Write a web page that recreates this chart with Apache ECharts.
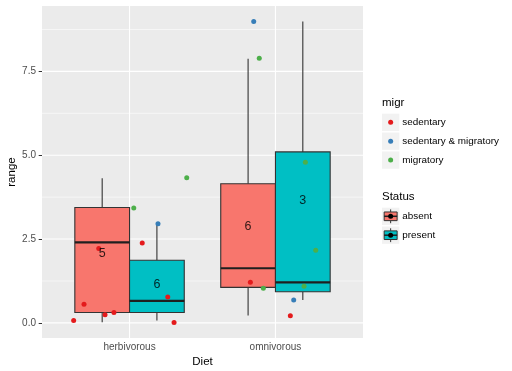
<!DOCTYPE html>
<html><head><meta charset="utf-8">
<script src="https://cdn.jsdelivr.net/npm/echarts@6/dist/echarts.min.js"></script>
<style>html,body{margin:0;padding:0;background:#fff}#c{width:512px;height:371px}</style>
</head><body><div id="c"></div>
<script>
const diets = ['herbivorous', 'omnivorous'];
const statuses = ['absent', 'present'];
const statusColors = ['#F8766D', '#00BFC4'];
const migrLevels = ['sedentary', 'sedentary & migratory', 'migratory'];
const migrColors = ['#E41A1C', '#377EB8', '#4DAF4A'];
// box stats: [x position, lower whisker, Q1, median, Q3, upper whisker]
const boxAbsent = [[0.8125, 0.02, 0.31, 2.40, 3.44, 4.31], [1.8125, 0.22, 1.06, 1.63, 4.15, 7.88]];
const boxPresent = [[1.1875, 0.07, 0.31, 0.66, 1.87, 2.97], [2.1875, 0.68, 0.93, 1.21, 5.10, 8.99]];
// count labels: [x, y, text]
const countLabels = [[0.8125, 2.08, '5'], [1.1875, 1.13, '6'], [1.8125, 2.86, '6'], [2.1875, 3.64, '3']];
// jittered points [x, range]
const sedentary = [[1.087, 2.38], [0.789, 2.22], [1.262, 0.77], [0.688, 0.56], [0.893, 0.31], [0.832, 0.24], [0.617, 0.07], [1.305, 0.01], [1.828, 1.21], [2.102, 0.21]];
const sedMig = [[1.195, 2.96], [1.851, 8.99], [2.125, 0.68]];
const migratory = [[1.392, 4.33], [1.029, 3.43], [1.889, 7.89], [2.205, 4.79], [2.276, 2.17], [2.196, 1.09], [1.917, 1.03]];
const yTicks = [0, 2.5, 5, 7.5];
const yMinor = [1.25, 3.75, 6.25, 8.75];
const xTicks = [1, 2];
const yRange = [-0.45, 9.45];
const xRange = [0.4, 2.6];

const FONT = '"Liberation Sans", Arial, sans-serif';
const chart = echarts.init(document.getElementById('c'), null, {renderer: 'canvas'});

// grid lines: [orientation 0=h 1=v, value, major flag]
const gridData = []
  .concat(yMinor.map(v => [0, v, 0]))
  .concat(yTicks.map(v => [0, v, 1]))
  .concat(xTicks.map(v => [1, v, 1]));

function renderGrid(params, api) {
  const o = api.value(0), v = api.value(1), major = api.value(2);
  let p1, p2;
  if (o === 0) { p1 = api.coord([xRange[0], v]); p2 = api.coord([xRange[1], v]); }
  else { p1 = api.coord([v, yRange[0]]); p2 = api.coord([v, yRange[1]]); }
  return {type: 'line', shape: {x1: p1[0], y1: p1[1], x2: p2[0], y2: p2[1]},
    style: {stroke: '#ffffff', lineWidth: major ? 1.1 : 0.55}};
}

function renderBox(params, api) {
  const x = api.value(0), half = 0.1875;
  const pMin = api.coord([x, api.value(1)]);
  const pQ1 = api.coord([x, api.value(2)]);
  const pMed = api.coord([x, api.value(3)]);
  const pQ3 = api.coord([x, api.value(4)]);
  const pMax = api.coord([x, api.value(5)]);
  const left = api.coord([x - half, 0])[0];
  const right = api.coord([x + half, 0])[0];
  const fill = api.visual('color');
  return {type: 'group', children: [
    {type: 'line', shape: {x1: pMin[0], y1: pMin[1], x2: pQ1[0], y2: pQ1[1]}, style: {stroke: '#333333', lineWidth: 1.1}},
    {type: 'line', shape: {x1: pQ3[0], y1: pQ3[1], x2: pMax[0], y2: pMax[1]}, style: {stroke: '#333333', lineWidth: 1.1}},
    {type: 'rect', shape: {x: left, y: pQ3[1], width: right - left, height: pQ1[1] - pQ3[1]}, style: {fill: fill, stroke: '#333333', lineWidth: 1.1}},
    {type: 'line', shape: {x1: left, y1: pMed[1], x2: right, y2: pMed[1]}, style: {stroke: '#1f1f1f', lineWidth: 2.2}}
  ]};
}

// legend graphics
const LX = 382, KEY = 17.3;
const graphics = [];
graphics.push({type: 'text', left: LX, top: 97, style: {text: 'migr', font: '11.5px ' + FONT, fill: '#000'}});
const migrRows = [122.3, 141.2, 160.1];
migrLevels.forEach((m, i) => {
  const cy = migrRows[i];
  graphics.push({type: 'rect', shape: {x: LX, y: cy - KEY / 2, width: KEY, height: KEY}, style: {fill: '#F2F2F2'}});
  graphics.push({type: 'circle', shape: {cx: LX + KEY / 2, cy: cy, r: 2.5}, style: {fill: migrColors[i]}});
  graphics.push({type: 'text', x: LX + KEY + 3, y: cy, style: {text: m, font: '9.9px ' + FONT, fill: '#000', verticalAlign: 'middle'}});
});
graphics.push({type: 'text', left: LX, top: 190.5, style: {text: 'Status', font: '11.5px ' + FONT, fill: '#000'}});
const statusRows = [216.3, 235.2];
statuses.forEach((s, i) => {
  const cy = statusRows[i], x0 = LX, y0 = cy - KEY / 2;
  graphics.push({type: 'rect', shape: {x: x0, y: y0, width: KEY, height: KEY}, style: {fill: '#F2F2F2'}});
  graphics.push({type: 'line', shape: {x1: x0 + KEY / 2, y1: y0 + KEY * 0.1, x2: x0 + KEY / 2, y2: y0 + KEY * 0.25}, style: {stroke: '#333333', lineWidth: 1}});
  graphics.push({type: 'line', shape: {x1: x0 + KEY / 2, y1: y0 + KEY * 0.75, x2: x0 + KEY / 2, y2: y0 + KEY * 0.9}, style: {stroke: '#333333', lineWidth: 1}});
  graphics.push({type: 'rect', shape: {x: x0 + KEY * 0.125, y: y0 + KEY * 0.25, width: KEY * 0.75, height: KEY * 0.5}, style: {fill: statusColors[i], stroke: '#333333', lineWidth: 1}});
  graphics.push({type: 'line', shape: {x1: x0 + KEY * 0.125, y1: cy, x2: x0 + KEY * 0.875, y2: cy}, style: {stroke: '#1f1f1f', lineWidth: 1.5}});
  graphics.push({type: 'circle', shape: {cx: x0 + KEY / 2, cy: cy, r: 2.5}, style: {fill: '#000'}});
  graphics.push({type: 'text', x: LX + KEY + 3, y: cy, style: {text: s, font: '9.9px ' + FONT, fill: '#000', verticalAlign: 'middle'}});
});

const option = {
  animation: false,
  textStyle: {fontFamily: FONT},
  grid: {left: 42, top: 6, right: 149, bottom: 33, show: true, backgroundColor: '#EBEBEB', borderWidth: 0,
    containLabel: false, outerBoundsMode: 'none'},
  xAxis: {
    type: 'value', min: xRange[0], max: xRange[1],
    name: 'Diet', nameLocation: 'middle', nameGap: 18, nameMoveOverlap: false,
    nameTextStyle: {fontSize: 11.5, color: '#000', fontFamily: FONT},
    axisLine: {show: false},
    axisTick: {show: true, length: 3.3, customValues: xTicks, lineStyle: {color: '#333333', width: 1}},
    axisLabel: {customValues: xTicks, formatter: v => diets[Math.round(v) - 1] || '', color: '#4D4D4D', fontSize: 10, margin: 4.5, fontFamily: FONT},
    splitLine: {show: false}
  },
  yAxis: {
    type: 'value', min: yRange[0], max: yRange[1],
    name: 'range', nameLocation: 'middle', nameGap: 24, nameRotate: 90, nameMoveOverlap: false,
    nameTextStyle: {fontSize: 11.5, color: '#000', fontFamily: FONT},
    axisLine: {show: false},
    axisTick: {show: true, length: 3.3, customValues: yTicks, lineStyle: {color: '#333333', width: 1}},
    axisLabel: {customValues: yTicks, formatter: v => v.toFixed(1), color: '#4D4D4D', fontSize: 10, margin: 6, fontFamily: FONT},
    splitLine: {show: false}
  },
  graphic: graphics,
  series: [
    {type: 'custom', name: 'grid', renderItem: renderGrid, data: gridData, z: 1, silent: true, clip: false},
    {type: 'custom', name: statuses[0], renderItem: renderBox, data: boxAbsent, itemStyle: {color: statusColors[0]}, z: 2},
    {type: 'custom', name: statuses[1], renderItem: renderBox, data: boxPresent, itemStyle: {color: statusColors[1]}, z: 2},
    {type: 'scatter', name: migrLevels[0], data: sedentary, symbolSize: 5, itemStyle: {color: migrColors[0], opacity: 1}, z: 3},
    {type: 'scatter', name: migrLevels[1], data: sedMig, symbolSize: 5, itemStyle: {color: migrColors[1], opacity: 1}, z: 3},
    {type: 'scatter', name: migrLevels[2], data: migratory, symbolSize: 5, itemStyle: {color: migrColors[2], opacity: 1}, z: 3},
    {type: 'scatter', name: 'n', data: countLabels, symbolSize: 0, z: 4,
      label: {show: true, position: 'inside', formatter: p => p.data[2], color: '#000', fontSize: 12.5, fontFamily: FONT}}
  ]
};
chart.setOption(option);
</script></body></html>
